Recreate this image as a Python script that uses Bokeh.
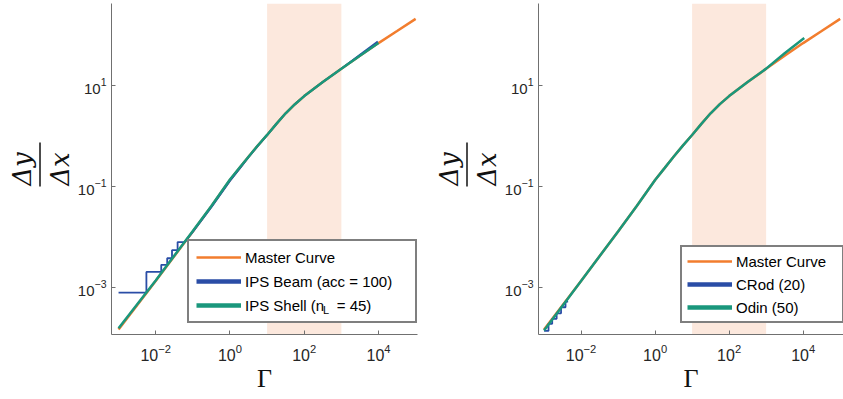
from bokeh.plotting import figure
from bokeh.models import (Legend, LegendItem, BoxAnnotation, FixedTicker, Range1d)
from bokeh.layouts import row
from bokeh.embed import file_html
from bokeh.resources import INLINE

# ---------------- data ----------------
BAND = [10, 1000]
X_TICKS = [1e-2, 1, 1e2, 1e4]
Y_TICKS = [1e-3, 1e-1, 1e1]
X_LIM_LEFT = [10**-3.19, 10**5.05]
X_LIM_RIGHT = [10**-3.15, 10**5.09]
Y_LIM = [10**-3.93, 10**2.624]

master_x = [1e-3, 1e-2, 1e-1, 0.316, 1, 1.78, 3.16, 5.62, 10, 17.8, 31.6, 56.2,
            100, 178, 316, 1000, 3162, 1e4, 31623, 1e5]
master_y = [1.48e-4, 1.35e-3, 1.29e-2, 4.07e-2, 0.135, 0.229, 0.389, 0.646, 1.05,
            1.74, 2.82, 4.27, 6.17, 8.51, 11.7, 21.4, 38.9, 69.2, 120, 209]

# left panel
shell_x = [1e-3, 1e-2, 1e-1, 0.316, 1, 1.78, 3.16, 5.62, 10, 17.8, 31.6, 56.2,
           100, 178, 316, 1000, 3162, 1e4]
shell_y = [1.56e-4, 1.38e-3, 1.32e-2, 4.1e-2, 0.138, 0.232, 0.39, 0.65, 1.05,
           1.74, 2.82, 4.27, 6.17, 8.5, 11.7, 21.4, 38.9, 69.2]
beam_x = [1e-3, 5.62e-3, 5.62e-3, 1.41e-2, 1.41e-2, 2.04e-2, 2.04e-2, 2.75e-2,
          2.75e-2, 3.89e-2, 3.89e-2, 6.03e-2, 0.1, 0.316, 1, 1.78, 3.16, 5.62,
          10, 17.8, 31.6, 56.2, 100, 178, 316, 1000, 3162, 9550]
beam_y = [7.94e-4, 7.94e-4, 2.04e-3, 2.04e-3, 2.82e-3, 2.82e-3, 3.80e-3, 3.80e-3,
          5.50e-3, 5.50e-3, 7.94e-3, 7.94e-3, 1.26e-2, 3.9e-2, 0.129, 0.22, 0.38,
          0.64, 1.04, 1.74, 2.82, 4.27, 6.17, 8.5, 11.7, 21.6, 40.5, 74.1]

# right panel
odin_x = [1e-3, 1e-2, 1e-1, 0.316, 1, 1.78, 3.16, 5.62, 10, 17.8, 31.6, 56.2,
          100, 178, 316, 1000, 3162, 1.07e4]
odin_y = [1.41e-4, 1.35e-3, 1.29e-2, 4.07e-2, 0.135, 0.229, 0.389, 0.646, 1.05,
          1.74, 2.82, 4.27, 6.17, 8.51, 11.7, 21.6, 43.7, 87.1]
crod_x = [1e-3, 1.32e-3, 1.32e-3, 1.66e-3, 1.66e-3, 2.19e-3, 2.19e-3, 2.88e-3,
          2.88e-3, 3.80e-3, 3.80e-3, 4.47e-3]
crod_y = [1.38e-4, 1.38e-4, 1.91e-4, 1.91e-4, 2.40e-4, 2.40e-4, 3.09e-4, 3.09e-4,
          4.07e-4, 4.07e-4, 5.25e-4, 5.25e-4]

LEFT_LABELS = ["Master Curve", "IPS Beam (acc = 100)", "IPS Shell (n   = 45)"]
SUBSCRIPT = "L"
RIGHT_LABELS = ["Master Curve", "CRod (20)", "Odin (50)"]
Y_NUM = "Δy"
Y_DEN = "Δx"
X_LABEL = "Γ"

ORANGE = "#F27D2E"
BLUE = "#2A4DA6"
GREEN = "#1A977C"
BAND_COLOR = "#FCE8DD"
AXIS_COLOR = "#707070"
TEXT_COLOR = "#262626"
LABEL_COLOR = "#111111"
H = 399
TOP, BOTTOM = 3, 65          # figure borders shared by every figure of the row


def style_label(ax, text, standoff):
    ax.axis_label = text
    ax.axis_label_text_font = "DejaVu Serif"
    ax.axis_label_text_font_style = "italic"
    ax.axis_label_text_font_size = "26px"
    ax.axis_label_text_color = LABEL_COLOR
    ax.axis_label_standoff = standoff


def make_fig(width, border_left, border_right, xlim):
    p = figure(width=width, height=H, x_axis_type="log", y_axis_type="log",
               x_range=Range1d(*xlim), y_range=Range1d(*Y_LIM),
               output_backend="svg", toolbar_location=None,
               min_border_left=border_left, min_border_right=border_right,
               min_border_top=TOP, min_border_bottom=BOTTOM)
    p.outline_line_color = None
    p.grid.visible = False
    for ax, ticks in ((p.xaxis[0], X_TICKS), (p.yaxis[0], Y_TICKS)):
        ax.ticker = FixedTicker(ticks=ticks)
        ax.axis_line_color = AXIS_COLOR
        ax.major_tick_line_color = AXIS_COLOR
        ax.major_tick_in = 4
        ax.major_tick_out = 0
        ax.minor_tick_line_color = None
        ax.major_label_text_font = "Liberation Sans"
        ax.major_label_text_color = TEXT_COLOR
    p.xaxis.major_label_text_font_size = "16px"
    p.yaxis.major_label_text_font_size = "15px"
    p.xaxis.major_label_standoff = 9
    p.yaxis.major_label_standoff = 5
    p.xaxis.axis_label = X_LABEL
    p.xaxis.axis_label_text_font = "Liberation Serif"
    p.xaxis.axis_label_text_font_style = "normal"
    p.xaxis.axis_label_text_font_size = "26px"
    p.xaxis.axis_label_text_color = LABEL_COLOR
    p.xaxis.axis_label_standoff = 0
    # denominator of the y label fraction
    style_label(p.yaxis[0], Y_DEN, 0)
    p.add_layout(BoxAnnotation(left=BAND[0], right=BAND[1], fill_color=BAND_COLOR,
                               fill_alpha=1.0, line_color=None, level="underlay"))
    return p


def make_numerator(width, border_left, bar_x):
    """Narrow figure: its axis label is Δy, a short segment is the fraction bar.
    Its frame uses pixel coordinates (x from figure left, y from figure bottom)."""
    q = figure(width=width, height=H, x_range=Range1d(border_left, width),
               y_range=Range1d(BOTTOM, H - TOP), output_backend="svg",
               toolbar_location=None, x_axis_location=None,
               min_border_left=border_left, min_border_right=0,
               min_border_top=TOP, min_border_bottom=BOTTOM)
    q.outline_line_color = None
    q.grid.visible = False
    ax = q.yaxis[0]
    ax.ticker = FixedTicker(ticks=[])
    ax.major_tick_line_color = None
    ax.minor_tick_line_color = None
    ax.major_tick_out = 0
    ax.major_tick_in = 0
    ax.major_label_standoff = 0
    ax.axis_line_color = None
    style_label(ax, Y_NUM, 0)
    q.segment(x0=[bar_x], y0=[H - 186], x1=[bar_x], y1=[H - 142],
              line_color=LABEL_COLOR, line_width=1.5)
    return q


def add_legend(p, labels, loc, label_width, padding, spacing):
    r1 = p.line(x=master_x[:1], y=master_y[:1], line_color=ORANGE, line_width=2.5)
    r2 = p.line(x=master_x[:1], y=master_y[:1], line_color=BLUE, line_width=4.5)
    r3 = p.line(x=master_x[:1], y=master_y[:1], line_color=GREEN, line_width=4.5)
    leg = Legend(items=[LegendItem(label=labels[0], renderers=[r1]),
                        LegendItem(label=labels[1], renderers=[r2]),
                        LegendItem(label=labels[2], renderers=[r3])],
                 location=loc, orientation="vertical",
                 glyph_width=45, glyph_height=18, label_height=18,
                 label_width=label_width, label_standoff=4, spacing=spacing,
                 padding=padding, margin=0,
                 label_text_font="Liberation Sans", label_text_font_size="15px",
                 label_text_color="#000000",
                 border_line_color="#000000", border_line_width=2,
                 background_fill_color="white", background_fill_alpha=1.0)
    p.add_layout(leg)
    return leg


# ---------------- left panel ----------------
lab1 = make_numerator(41, 36, 39.5)
p1 = make_fig(379, 67, 3, X_LIM_LEFT)
p1.line(master_x, master_y, line_color=ORANGE, line_width=2.5)
p1.line(beam_x, beam_y, line_color=BLUE, line_width=1.8)
p1.line(shell_x, shell_y, line_color=GREEN, line_width=2.5)
add_legend(p1, LEFT_LABELS, (76, 11), 163, 7, 6)
# subscript "L" of n_L, drawn as a second, borderless legend on top
r_sub = p1.line(x=master_x[:1], y=master_y[:1], line_alpha=0)
p1.add_layout(Legend(items=[LegendItem(label=SUBSCRIPT, renderers=[r_sub])],
                     location=(211, 18), glyph_width=1, glyph_height=10,
                     label_height=10, label_standoff=0, padding=0, margin=0,
                     label_text_font="Liberation Sans", label_text_font_size="11px",
                     label_text_color="#000000", border_line_color=None,
                     background_fill_alpha=0))

# ---------------- right panel ----------------
lab2 = make_numerator(48, 43, 46.5)
p2 = make_fig(375, 67, 0, X_LIM_RIGHT)
p2.line(master_x, master_y, line_color=ORANGE, line_width=2.5)
p2.line(crod_x, crod_y, line_color=BLUE, line_width=1.8)
p2.line(odin_x, odin_y, line_color=GREEN, line_width=2.5)
add_legend(p2, RIGHT_LABELS, (142, 11), 101, 5, 5)

layout = row(lab1, p1, lab2, p2)
open("out.html", "w").write(file_html(layout, INLINE))
